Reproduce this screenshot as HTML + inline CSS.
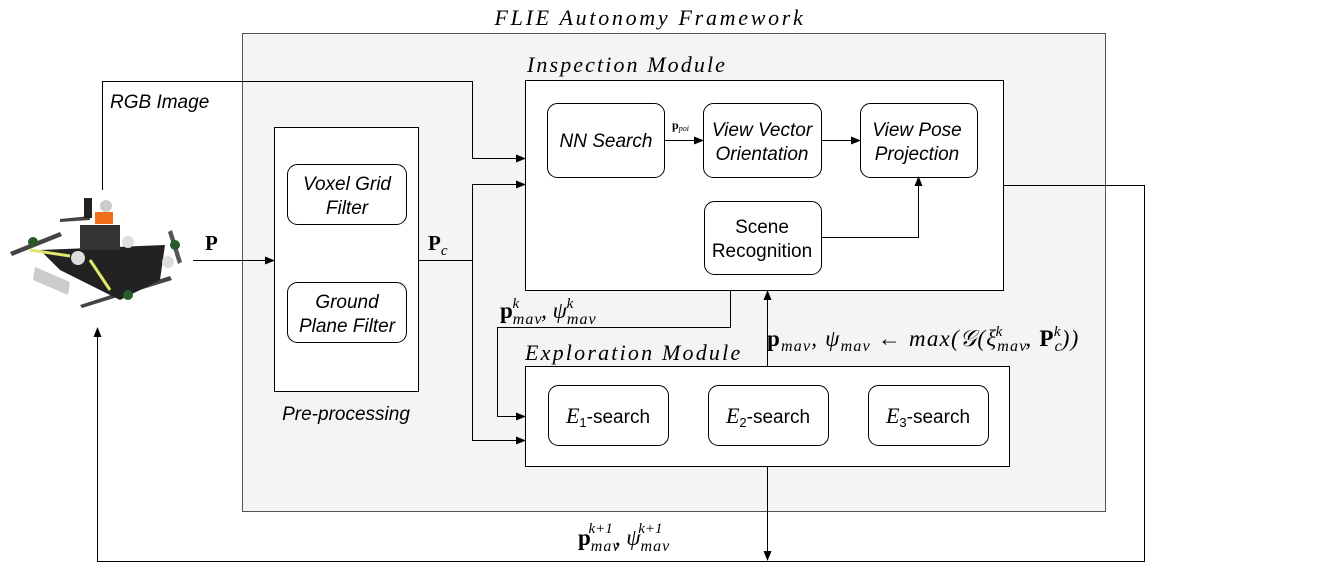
<!DOCTYPE html>
<html><head><meta charset="utf-8"><style>
html,body{margin:0;padding:0;background:#fff;}
svg{display:block;}
.s{font-family:"Liberation Sans",sans-serif;font-size:19px;fill:#000;}
.i{font-style:italic;}
.m{font-family:"Liberation Serif",serif;font-style:italic;fill:#000;}
.b{font-family:"Liberation Serif",serif;font-weight:bold;fill:#000;}
</style></head><body>
<svg width="1340" height="571" viewBox="0 0 1340 571" xmlns="http://www.w3.org/2000/svg">
<defs><marker id="a" markerWidth="10" markerHeight="8" refX="9" refY="4" orient="auto" markerUnits="userSpaceOnUse"><path d="M0,0 L10,4 L0,8 z" fill="#000"/></marker></defs>
<rect x="242.5" y="33.5" width="863" height="478" fill="#f4f4f4" stroke="#555" stroke-width="1"/>
<text x="650" y="25" text-anchor="middle" class="m" font-size="22" letter-spacing="2.7">FLIE Autonomy Framework</text>
<!-- inspection -->
<text x="527" y="72" class="m" font-size="22" letter-spacing="2.1">Inspection Module</text>
<rect x="525.5" y="80.5" width="478" height="210" fill="#fff" stroke="#000"/>
<rect x="547.5" y="103.5" width="117" height="74" rx="10" fill="#fff" stroke="#000"/>
<text x="606" y="147" text-anchor="middle" class="s i">NN Search</text>
<rect x="703.5" y="103.5" width="118" height="74" rx="10" fill="#fff" stroke="#000"/>
<text x="762" y="136" text-anchor="middle" class="s i">View Vector</text>
<text x="762" y="160" text-anchor="middle" class="s i">Orientation</text>
<rect x="860.5" y="103.5" width="117" height="74" rx="10" fill="#fff" stroke="#000"/>
<text x="917" y="136" text-anchor="middle" class="s i">View Pose</text>
<text x="917" y="160" text-anchor="middle" class="s i">Projection</text>
<rect x="704.5" y="201.5" width="117" height="73" rx="10" fill="#fff" stroke="#000"/>
<text x="762" y="233" text-anchor="middle" class="s">Scene</text>
<text x="762" y="257" text-anchor="middle" class="s">Recognition</text>
<line x1="664" y1="140.5" x2="703" y2="140.5" stroke="#000" marker-end="url(#a)"/>
<text x="672" y="129" class="b" font-size="12">p<tspan class="m" font-weight="normal" font-size="8" dy="2">poi</tspan></text>
<line x1="821" y1="140.5" x2="860" y2="140.5" stroke="#000" marker-end="url(#a)"/>
<polyline points="821,237.5 918.5,237.5 918.5,177" fill="none" stroke="#000" marker-end="url(#a)"/>
<!-- preprocessing -->
<rect x="274.5" y="127.5" width="144" height="264" fill="#fff" stroke="#000"/>
<rect x="287.5" y="164.5" width="119" height="60" rx="10" fill="#fff" stroke="#000"/>
<text x="347" y="190" text-anchor="middle" class="s i">Voxel Grid</text>
<text x="347" y="214" text-anchor="middle" class="s i">Filter</text>
<rect x="287.5" y="282.5" width="119" height="60" rx="10" fill="#fff" stroke="#000"/>
<text x="347" y="308" text-anchor="middle" class="s i">Ground</text>
<text x="347" y="332" text-anchor="middle" class="s i">Plane Filter</text>
<text x="346" y="420" text-anchor="middle" class="s i">Pre-processing</text>
<!-- exploration -->
<text x="525" y="360" class="m" font-size="22" letter-spacing="2.2">Exploration Module</text>
<rect x="525.5" y="366.5" width="484" height="100" fill="#fff" stroke="#000"/>
<rect x="548.5" y="385.5" width="120" height="60" rx="10" fill="#fff" stroke="#000"/>
<text x="608" y="423" text-anchor="middle" class="s"><tspan class="m" font-size="22">E</tspan><tspan font-size="13" dy="4">1</tspan><tspan dy="-4">-search</tspan></text>
<rect x="708.5" y="385.5" width="120" height="60" rx="10" fill="#fff" stroke="#000"/>
<text x="768" y="423" text-anchor="middle" class="s"><tspan class="m" font-size="22">E</tspan><tspan font-size="13" dy="4">2</tspan><tspan dy="-4">-search</tspan></text>
<rect x="868.5" y="385.5" width="120" height="60" rx="10" fill="#fff" stroke="#000"/>
<text x="928" y="423" text-anchor="middle" class="s"><tspan class="m" font-size="22">E</tspan><tspan font-size="13" dy="4">3</tspan><tspan dy="-4">-search</tspan></text>
<!-- connectors -->
<polyline points="102.5,190 102.5,81.5 472.5,81.5 472.5,158.5 525,158.5" fill="none" stroke="#000" marker-end="url(#a)"/>
<text x="110" y="108" class="s i">RGB Image</text>
<line x1="193" y1="260.5" x2="274" y2="260.5" stroke="#000" marker-end="url(#a)"/>
<text x="205" y="250" class="b" font-size="21">P</text>
<line x1="418" y1="260.5" x2="472.5" y2="260.5" stroke="#000"/>
<text x="428" y="250" class="b" font-size="21">P<tspan class="m" font-weight="normal" font-size="15" dy="5">c</tspan></text>
<polyline points="525,184.5 472.5,184.5 472.5,440.5 525,440.5" fill="none" stroke="#000" marker-end="url(#a)"/>
<line x1="472.5" y1="184.5" x2="525" y2="184.5" stroke="#000" marker-end="url(#a)"/>
<polyline points="730.5,290 730.5,327.5 497.5,327.5 497.5,416.5 525,416.5" fill="none" stroke="#000" marker-end="url(#a)"/>
<text x="500" y="318" class="m" font-size="23"><tspan class="b" font-style="normal">p</tspan><tspan font-size="16" dy="6" letter-spacing="1">mav</tspan><tspan font-size="15" dx="-30" dy="-16">k</tspan><tspan dx="22" dy="10">,  ψ</tspan><tspan font-size="16" dy="6" letter-spacing="1">mav</tspan><tspan font-size="15" dx="-30" dy="-16">k</tspan></text>
<line x1="767.5" y1="366" x2="767.5" y2="291" stroke="#000" marker-end="url(#a)"/>
<text x="767" y="346" class="m" font-size="23" letter-spacing="1.2"><tspan class="b" font-style="normal">p</tspan><tspan font-size="16" dy="5">mav</tspan><tspan dy="-5">,  ψ</tspan><tspan font-size="16" dy="5">mav</tspan><tspan dy="-5"> ← max(𝒢(ξ</tspan><tspan font-size="16" dy="5">mav</tspan><tspan font-size="15" dx="-32" dy="-15">k</tspan><tspan dx="22" dy="10">, </tspan><tspan class="b" font-style="normal">P</tspan><tspan font-size="16" dy="5">c</tspan><tspan font-size="15" dx="-9" dy="-15">k</tspan><tspan dy="10">))</tspan></text>
<line x1="767.5" y1="466" x2="767.5" y2="560" stroke="#000" marker-end="url(#a)"/>
<polyline points="1003,185.5 1144.5,185.5 1144.5,561.5 97.5,561.5 97.5,328" fill="none" stroke="#000" marker-end="url(#a)"/>
<text x="578" y="545" class="m" font-size="23"><tspan class="b" font-style="normal">p</tspan><tspan font-size="16" dy="6" letter-spacing="1">mav</tspan><tspan font-size="15" dx="-32" dy="-18">k+1</tspan><tspan dx="2" dy="12">,  ψ</tspan><tspan font-size="16" dy="6" letter-spacing="1">mav</tspan><tspan font-size="15" dx="-32" dy="-18">k+1</tspan></text>
<!-- drone -->
<g>
<path d="M10,252 L60,232 L62,236 L12,256 z" fill="#444"/>
<path d="M60,219 L90,216 L90,220 L60,222 z" fill="#444"/>
<path d="M172,230 L182,262 L178,264 L168,232 z" fill="#555"/>
<path d="M80,305 L170,276 L172,280 L82,308 z" fill="#444"/>
<path d="M40,250 L165,245 L160,280 L120,300 L60,270 z" fill="#222"/>
<rect x="80" y="225" width="40" height="25" fill="#333"/>
<rect x="95" y="212" width="18" height="12" fill="#f26f1a"/>
<rect x="84" y="198" width="8" height="20" fill="#222"/>
<circle cx="106" cy="206" r="6" fill="#ccc"/>
<circle cx="78" cy="258" r="7" fill="#ddd"/>
<circle cx="128" cy="242" r="6" fill="#ddd"/>
<circle cx="168" cy="262" r="6" fill="#ddd"/>
<path d="M35,267 L70,282 L68,295 L33,280 z" fill="#ccc"/>
<path d="M30,250 L70,256" stroke="#dfe86a" stroke-width="3"/>
<path d="M90,260 L110,290" stroke="#dfe86a" stroke-width="3"/>
<circle cx="33" cy="242" r="5" fill="#2a5a2a"/>
<circle cx="128" cy="295" r="5" fill="#2a5a2a"/>
<circle cx="175" cy="245" r="5" fill="#2a5a2a"/>
</g>
</svg>
</body></html>
